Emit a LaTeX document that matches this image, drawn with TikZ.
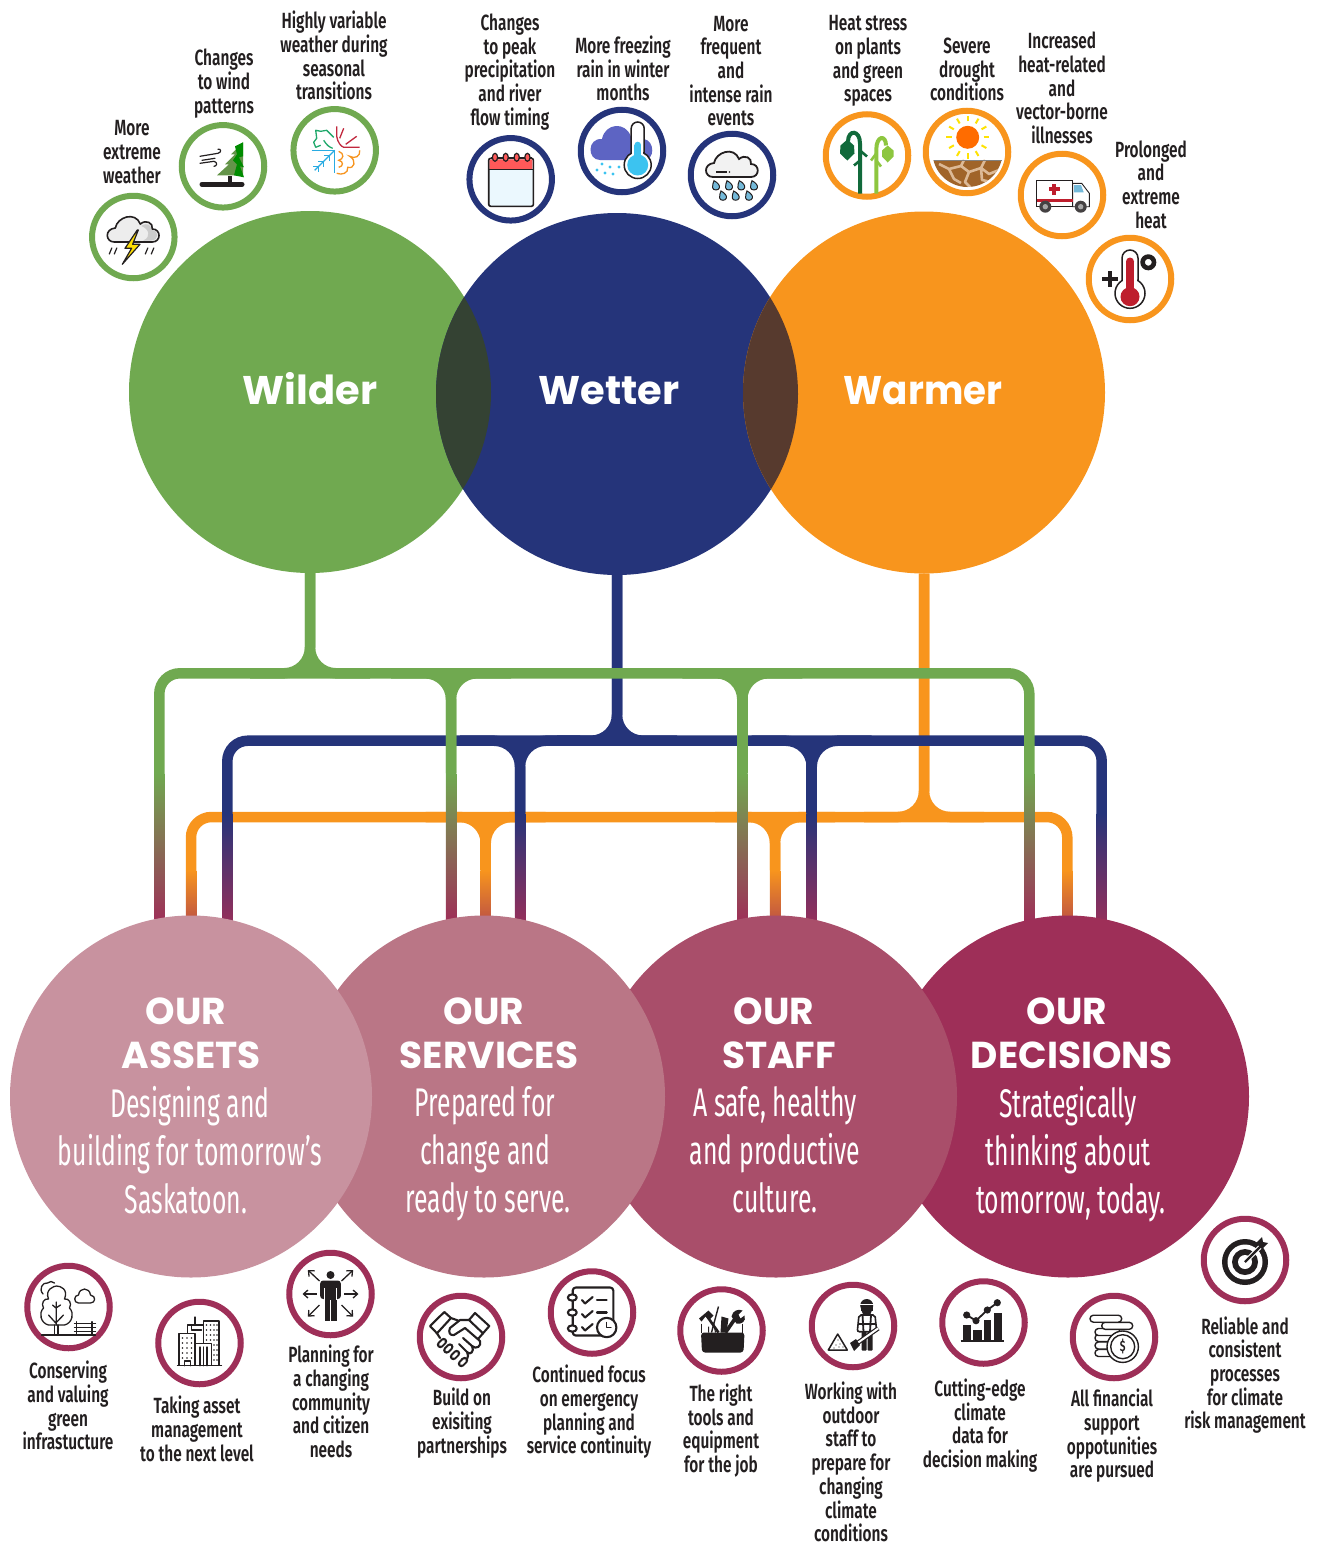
\documentclass[tikz,border=0pt]{standalone}
\usepackage{fontspec}
\usetikzlibrary{calc,arrows.meta}
\newfontfamily\labf[FakeStretch=0.70]{Fira Sans SemiBold}
\newfontfamily\bodyf[FakeStretch=0.62]{Fira Sans}
\newfontfamily\headf{Poppins Bold}
\definecolor{ink}{HTML}{231F20}
\definecolor{cgreen}{HTML}{70A950}
\definecolor{cblue}{HTML}{25347A}
\definecolor{corange}{HTML}{F8951D}
\definecolor{wine}{HTML}{9E2F58}
\definecolor{cassets}{HTML}{C8929F}
\definecolor{cservices}{HTML}{BA7686}
\definecolor{cstaff}{HTML}{A94E6A}
\definecolor{capgb}{HTML}{344233}
\definecolor{capbo}{HTML}{573A2E}
\definecolor{cdrop}{HTML}{74B9D9}
\definecolor{iconred}{HTML}{BE1E2D}
\definecolor{skyb}{HTML}{3CC3F0}
\pgfdeclarelayer{conn}
\pgfsetlayers{conn,main}
\newcommand{\tdrop}[3]{%
  \draw[#1] (#3) -- (#3|-#2);
  \draw[#1,rounded corners=26pt] (#3) -- (#3|-#2) -- ++(-60,0);
  \draw[#1,rounded corners=26pt] (#3) -- (#3|-#2) -- ++(60,0);}
\newcommand{\fadedrop}[4]{%
  \shade[top color=#1,bottom color=wine] ($(#2)+(-5.25,0)$) rectangle ($(#2|-#3)+(5.25,#4)$);}
\newcommand{\rdrop}[2]{\begin{scope}[shift={(#1,#2)}]
  \draw[ink,line width=1pt,fill=cdrop] (-2,-5) .. controls (2,-3) and (4,0) .. (3.4,2) .. controls (2.8,5) and (-3,5) .. (-3.4,2) .. controls (-3.6,0) and (-3,-3) .. (-2,-5) -- cycle;
  \end{scope}}
% thermometer: centre x, top y, bulb y, tube half width, bulb radius
\newcommand{\thermo}[5]{%
  \filldraw[draw=ink,line width=1.5pt,fill=white,rounded corners=#4 pt] (#1-#4,#2) rectangle (#1+#4,#3);
  \filldraw[draw=ink,line width=1.5pt,fill=white] (#1,#3) circle (#5 pt);
  \fill[white] (#1-#4+.75,#3-#5-3) rectangle (#1+#4-.75,#3);}
\def\cloudp{(-19,5) .. controls (-28,5) and (-29,-8) .. (-18,-9) .. controls (-16,-20) and (2,-26) .. (7,-13) .. controls (13,-18) and (20,-14) .. (19,-8) .. controls (28,-8) and (28,5) .. (19,5) -- cycle}
\tikzset{
  ring/.style={circle,draw=#1,line width=6pt,minimum size=82.5pt,inner sep=0pt,fill=white},
  bigc/.style={circle,fill=#1,minimum size=362pt,inner sep=0pt},
  lab/.style={font=\labf\fontsize{22}{23.7}\selectfont,align=center,inner sep=0pt,text=ink},
  head/.style={font=\headf\fontsize{40}{44}\selectfont,inner sep=0pt,text=white},
  ctitle/.style={font=\headf\fontsize{37.5}{44}\selectfont,align=center,inner sep=0pt,text=white},
  cbody/.style={font=\bodyf\fontsize{40}{48}\selectfont,align=center,inner sep=0pt,text=white},
  gline/.style={draw=cgreen,line width=10.5pt},
  bline/.style={draw=cblue,line width=10.5pt},
  oline/.style={draw=corange,line width=10.5pt},
  ic/.style={draw=ink,line width=1.6pt,line cap=round,line join=round},
}
\begin{document}
\begin{tikzpicture}[x=1pt,y=-1pt]
\useasboundingbox (0,0) rectangle (1323,1545);
% ---- big circles
\node[bigc=cgreen] (wilder) at (310,392) {};
\node[bigc=cblue] (wetter) at (617,394) {};
\node[bigc=corange] (warmer) at (924,392.5) {};
\begin{scope}\clip (310,392) circle (181pt);\fill[capgb] (617,394) circle (181pt);\end{scope}
\begin{scope}\clip (617,394) circle (181pt);\fill[capbo] (924,392.5) circle (181pt);\end{scope}
\node[head] (wildert) at (310,388.5) {Wilder};
\node[head] (wettert) at (609,391) {Wetter};
\node[head] (warmert) at (923,390.5) {\scalebox{.93}[1]{Warmer}};
\node[bigc=wine] (decisions) at (1068,1096.5) {};
\node[bigc=cstaff] (staff) at (776,1096.5) {};
\node[bigc=cservices] (services) at (484,1096.5) {};
\node[bigc=cassets] (assets) at (191,1096.5) {};
\node[ctitle] (t1) at (191,1033) {\hspace*{-10pt}OUR\\ASSETS};
\node[ctitle] (t2) at (489,1033) {\hspace*{-10pt}OUR\\SERVICES};
\node[ctitle] (t3) at (779,1033) {\hspace*{-10pt}OUR\\STAFF};
\node[ctitle] (t4) at (1072,1033) {\hspace*{-10pt}OUR\\DECISIONS};
\node[cbody] (b1) at (190,1150) {Designing and\\building for tomorrow’s\\\hspace*{-8pt}Saskatoon.};
\node[cbody] (b2) at (485,1154) {Prepared for\\change and\\\hspace*{6pt}ready to serve.};
\node[cbody] (b3) at (775,1150) {A safe, healthy\\and productive\\culture.};
\node[cbody] (b4) at (1068,1154) {Strategically\\thinking about\\\hspace*{6pt}tomorrow, today.};
% ---- connectors
\coordinate (gbus) at (0,673.3);\coordinate (bbus) at (0,740.7);\coordinate (obus) at (0,817);
\coordinate (g1) at (159.3,773);\coordinate (g2) at (451,773);\coordinate (g3) at (742.3,773);\coordinate (g4) at (1029.3,773);
\coordinate (b1c) at (227.3,813);\coordinate (b2c) at (520,813);\coordinate (b3c) at (811.7,813);\coordinate (b4c) at (1101.7,813);
\coordinate (o1) at (191,870);\coordinate (o2) at (485.7,870);\coordinate (o3) at (775,870);\coordinate (o4) at (1067.3,870);
\begin{pgfonlayer}{conn}
% orange
\draw[oline,rounded corners=20.5pt] (o1) -- (o1|-obus) -- (o4|-obus) -- (o4);
\tdrop{oline}{obus}{warmer.south}
\tdrop{oline}{obus}{o2}\tdrop{oline}{obus}{o3}
\fadedrop{corange}{o1}{assets.north}{34}\fadedrop{corange}{o2}{services.north}{34}\fadedrop{corange}{o3}{staff.north}{34}\fadedrop{corange}{o4}{decisions.north}{34}
% blue
\draw[bline,rounded corners=20.5pt] (b1c) -- (b1c|-bbus) -- (b4c|-bbus) -- (b4c);
\tdrop{bline}{bbus}{wetter.south}
\tdrop{bline}{bbus}{b2c}\tdrop{bline}{bbus}{b3c}
\fadedrop{cblue}{b1c}{assets.north}{16}\fadedrop{cblue}{b2c}{services.north}{16}\fadedrop{cblue}{b3c}{staff.north}{16}\fadedrop{cblue}{b4c}{decisions.north}{16}
% green
\draw[gline,rounded corners=20.5pt] (g1) -- (g1|-gbus) -- (g4|-gbus) -- (g4);
\tdrop{gline}{gbus}{wilder.south}
\tdrop{gline}{gbus}{g2}\tdrop{gline}{gbus}{g3}
\fadedrop{cgreen}{g1}{assets.north}{6}\fadedrop{cgreen}{g2}{services.north}{6}\fadedrop{cgreen}{g3}{staff.north}{6}\fadedrop{cgreen}{g4}{decisions.north}{6}
\end{pgfonlayer}
% ---- rings
\foreach \n/\x/\y in {i1/133.3/237,i2/223/166.3,i3/334.7/150.3}{\node[ring=cgreen] (\n) at (\x,\y) {};}
\foreach \n/\x/\y in {i4/510.7/179.3,i5/622/151,i6/732/175}{\node[ring=cblue] (\n) at (\x,\y) {};}
\foreach \n/\x/\y in {i7/867/155.5,i8/967/152,i9/1062/195,i10/1130/279}{\node[ring=corange] (\n) at (\x,\y) {};}
\foreach \n/\x/\y in {j1/68.5/1307,j2/199.5/1343,j3/330.5/1294,j4/461/1337,j5/592/1312.5,j6/721.5/1330.5,j7/853/1326,j8/983.5/1322.5,j9/1114/1337,j10/1245/1260}{\node[ring=wine] (\n) at (\x,\y) {};}
% ---- labels
\node[lab] (l1) at (132,152) {More\\extreme\\weather};
\node[lab] (l2) at (224,83.5) {Changes\\to wind\\patterns};
\node[lab] (l3) at (334,55.5) {Highly variable\\weather during\\seasonal\\transitions};
\node[lab] (l4) at (510,72) {Changes\\to peak\\precipitation\\and river\\flow timing};
\node[lab] (l5) at (623,68.5) {More freezing\\rain in winter\\months};
\node[lab] (l6) at (731,71) {More\\frequent\\and\\intense rain\\events};
\node[lab] (l7) at (868,61) {Heat stress\\on plants\\and green\\spaces};
\node[lab] (l8) at (967,69.5) {Severe\\drought\\conditions};
\node[lab] (l9) at (1062,88) {Increased\\heat-related\\and\\vector-borne\\illnesses};
\node[lab] (l10) at (1151,184.5) {Prolonged\\and\\extreme\\heat};
\node[lab] (m1) at (68,1405.5) {Conserving\\and valuing\\green\\infrastucture};
\node[lab] (m2) at (197,1429) {Taking asset\\management\\to the next level};
\node[lab] (m3) at (331,1401.5) {Planning for\\a changing\\community\\and citizen\\needs};
\node[lab] (m4) at (462,1423) {Build on\\exisiting\\partnerships};
\node[lab] (m5) at (589,1412) {Continued focus\\on emergency\\planning and\\service continuity};
\node[lab] (m6) at (721,1430.5) {The right\\tools and\\equipment\\for the job};
\node[lab] (m7) at (851,1462) {Working with\\outdoor\\staff to\\prepare for\\changing\\climate\\conditions};
\node[lab] (m8) at (980,1425.5) {Cutting-edge\\climate\\data for\\decision making};
\node[lab] (m9) at (1112,1436) {All financial\\support\\oppotunities\\are pursued};
\node[lab] (m10) at (1245,1375) {Reliable and\\consistent\\processes\\for climate\\risk management};
% ---- icons: storm
\begin{scope}[shift={(i1)}]
\filldraw[draw=ink,line width=1.6pt,fill=gray!14] \cloudp;
\fill[gray!40] (8,-11) .. controls (14,-15) and (18,-12) .. (18,-7) .. controls (26,-7) and (26,3) .. (18,3.5) -- (10,3.5) .. controls (18,0) and (16,-8) .. (8,-11) -- cycle;
\filldraw[draw=ink,line width=1.2pt,fill=yellow!80!orange,line join=round] (4,-7) -- (-8.3,11.3) -- (-1.7,11.3) -- (-11,27.3) -- (6.7,7.3) -- (-0.7,7.3) -- (5,-7) -- cycle;
\foreach \a/\b in {-24/17,-19/17,12/17,18/17}{\draw[ic,line width=1.2pt] (\a,\b) -- ++(2.5,-6);}
\end{scope}
% wind and tree
\begin{scope}[shift={(i2)}]
\draw[ink,line width=5pt,line cap=round] (-21,18) -- (19,18);
\fill[ink] (5,10) rectangle (9,18);
\fill[cgreen!85!ink] (20,-24) -- (8,-12) -- (12,-12) -- (2,-2) -- (6,-2) -- (-6,9) -- (20,9) -- cycle;
\fill[green!55!black] (12,-20) -- (20,-24) -- (20,-10) -- (16,-9) -- (21,1) -- (17,0) -- (21,11) -- (11,9) -- (14,-2) -- (10,-6) -- (14,-12) -- cycle;
\draw[ic,line width=1.2pt] (-23,-10) -- (-5,-13) .. controls (-1,-14) and (-2,-18) .. (-5,-17);
\draw[ic,line width=1.2pt] (-21,-6) -- (-8,-8);
\draw[ic,line width=1.2pt] (-23,-3) -- (-9,-5) .. controls (-5,-4) and (-6,0) .. (-9,0);
\end{scope}
% seasons
\begin{scope}[shift={(i3)}]
\definecolor{sg}{HTML}{1FA86B}\definecolor{sr}{HTML}{C1283E}\definecolor{sb}{HTML}{29ABE2}\definecolor{so}{HTML}{F7941E}
\draw[sg,line width=1.3pt,line join=round] (-1,-13) -- (-6,-18) -- (-8,-20) -- (-14,-19) -- (-19,-20) -- (-18,-12) -- (-21,-8) -- (-19,-3) -- (-14,-5);
\draw[sg,line width=1.3pt] (-11,-10) .. controls (-8,-5) and (-5,-3) .. (-2,-2);
\draw[sr,line width=1.3pt] (2,-24) -- (2,-14) .. controls (3,-8) and (6,-4) .. (9,-3) -- (25,-3);
\draw[sr,line width=1.3pt] (9,-22) -- (5,-12);\draw[sr,line width=1.3pt] (22,-14) -- (11,-6);
\draw[sb,line width=1.3pt] (-23,0) -- (0,0) -- (0,23);\draw[sb,line width=1.3pt] (0,0) -- (-20,20);
\foreach \t in {5,11,16}{\draw[sb,line width=1.2pt] (-\t,\t) -- (-\t-6,\t);\draw[sb,line width=1.2pt] (-\t,\t) -- (-\t,\t+6);}
\draw[so,line width=1.3pt] (25,0) .. controls (26,6) and (20,9) .. (15,6) .. controls (22,10) and (20,19) .. (13,17) .. controls (14,23) and (7,25) .. (2,23);
\draw[so,line width=1.3pt] (4,1) .. controls (10,3) and (9,9) .. (4,10) .. controls (9,11) and (9,16) .. (4,17);
\end{scope}
% calendar
\begin{scope}[shift={(i4)}]
\filldraw[draw=ink,line width=1.6pt,fill=cyan!8,rounded corners=2pt] (-22,-21) rectangle (22.7,27);
\fill[red!65!white,rounded corners=1pt] (-21,-20) rectangle (21.7,-10);
\draw[ink,line width=1.6pt] (-22,-10) -- (22.7,-10);
\draw[ink,line width=1.4pt] (-20,-22) -- (21,-22);
\foreach \x in {-15.7,-5,6,16.7}{\filldraw[draw=ink,line width=1.2pt,fill=red!65!white] (\x,-22) ellipse (2.6pt and 4pt);}
\end{scope}
% rain + thermometer
\begin{scope}[shift={(i5)}]
\fill[blue!35!cblue!70!white] (-22,9) .. controls (-35,9) and (-35,-13) .. (-20,-12) .. controls (-17,-28) and (4,-30) .. (9,-14) -- (22,-12) .. controls (33,-10) and (33,9) .. (22,9) -- cycle;
\foreach \x/\y in {-25/19,-17/22,-9/23,-20/13,-12/16,-3/16}{\fill[skyb] (\x,\y) circle (1.6pt);}
\thermo{15.7}{-29}{14}{6.5}{13.5}
\fill[skyb] (12.4,14) rectangle (19,-6);\fill[skyb] (15.7,-6) circle (3.3pt);\fill[skyb] (15.7,14) circle (10.5pt);
\end{scope}
% frequent rain
\begin{scope}[shift={(i6)}]
\begin{scope}[shift={(0,-3)}]\filldraw[draw=ink,line width=1.8pt,fill=gray!10] \cloudp;\end{scope}
\draw[ink,line width=1.2pt] (-16,-3) -- (-5,-3);\fill[ink] (-2.5,-3) circle (.8pt);
\rdrop{-16}{10.7}\rdrop{-3}{10.7}\rdrop{9.3}{10.7}\rdrop{22}{10.7}\rdrop{-9}{21}\rdrop{3.7}{21}\rdrop{17}{21}
\end{scope}
% plants
\begin{scope}[shift={(i7)}]
\definecolor{pd}{HTML}{116A3B}\definecolor{pl}{HTML}{8DC63F}
\draw[pd,line width=4pt] (-7,38) -- (-7,-12) .. controls (-7,-26) and (-19,-26) .. (-19,-14);
\fill[pd] (-19.7,-16) -- (-13,-10) -- (-12.5,-2) -- (-19.7,5) -- (-27,-2) -- (-26.5,-10) -- cycle;
\draw[pd,line width=2.6pt] (-7,-5) -- (0,1);\draw[pd,line width=2.6pt] (-7,5) -- (-13,10);
\draw[pl,line width=4pt] (9.3,38) -- (9.3,-6) .. controls (9.3,-20) and (19,-21) .. (19,-10);
\fill[pl] (20.7,-10) -- (26.5,-5) -- (26.5,1) -- (20.7,7) -- (15,1) -- (15,-5) -- cycle;
\draw[pl,line width=2.6pt] (9.3,-2) -- (4,5);\draw[pl,line width=2.6pt] (9.3,5) -- (14,11);
\end{scope}
% drought
\begin{scope}[shift={(i8)}]
\begin{scope}\clip (0.5,0) circle (35pt);
\fill[brown!75!black!85!orange] (-40,8) rectangle (40,40);
\draw[brown!55!white,line width=2.6pt,line join=round] (-28,12) -- (-18,17) -- (-13,27) -- (-6,31) (-18,17) -- (-6,14) -- (2,20) -- (-2,30) -- (6,38) (2,20) -- (14,16) -- (22,22) -- (32,18) (14,16) -- (15,28) -- (24,30) (-6,14) -- (-3,8) (14,16) -- (18,8);
\end{scope}
\draw[gray,line width=.8pt] (-33.5,8) -- (35,8);
\fill[orange!85!red] (0.7,-14.7) circle (11.5pt);
\foreach \a in {0,30,...,330}{\draw[yellow!85!orange,line width=2pt] ($(0.7,-14.7)+(\a:16)$) -- ($(0.7,-14.7)+(\a:21.5)$);}
\end{scope}
% ambulance
\begin{scope}[shift={(i9)}]
\filldraw[draw=ink,line width=.9pt,fill=white] (10.7,-11.7) -- (19.7,-11.7) -- (27.3,-1.7) -- (27.3,11.7) -- (10.7,11.7) -- cycle;
\filldraw[draw=ink,line width=.9pt,fill=white] (-25.3,-15) rectangle (10.7,11.7);
\fill[iconred] (-25.3,4) rectangle (10.7,7);
\fill[cdrop] (12,-10) -- (19,-10) -- (21.7,-2.7) -- (12,-2.7) -- cycle;
\fill[iconred] (-9.7,-11.2) rectangle (-5.7,-0.2);\fill[iconred] (-13.2,-7.7) rectangle (-2.2,-3.7);
\foreach \x in {-16.7,18.7}{\fill[ink!85] (\x,11.7) circle (6pt);\fill[gray!70] (\x,11.7) circle (2.7pt);}
\end{scope}
% heat
\begin{scope}[shift={(i10)}]
\thermo{0}{-29}{14.3}{8}{15}
\fill[iconred] (-4,-18) rectangle (4,18);\fill[iconred] (0,-17.5) circle (4pt);\fill[iconred] (0,17.7) circle (9.5pt);
\fill[ink] (-28,-2) rectangle (-12,2);\fill[ink] (-22,-8) rectangle (-18,8);
\draw[ink,line width=4.6pt] (18.3,-16.7) circle (5.7pt);
\end{scope}
% park
\begin{scope}[shift={(j1)},ic/.append style={line width=1.3pt}]
\draw[ic] (-27,28) -- (27,28);
\draw[ic] (-25.5,-13) .. controls (-30,-18) and (-26,-25) .. (-21,-24) .. controls (-19,-26) and (-16,-26) .. (-14,-24);
\draw[ic,fill=white] (-20,18) .. controls (-28,16) and (-30,6) .. (-25,1) .. controls (-28,-4) and (-24,-9) .. (-20,-8) .. controls (-24,-18) and (-14,-21) .. (-12,-21) .. controls (-8,-21) and (0,-18) .. (-4,-8) .. controls (0,-9) and (4,-4) .. (1,1) .. controls (6,6) and (4,16) .. (-4,18) -- cycle;
\draw[ic] (-14,28) -- (-14,18) (-10.5,28) -- (-10.5,18);
\draw[ic] (-12.3,18) -- (-12.3,-5) (-20,8) -- (-12.7,16) -- (-5,8) (-16,-2) -- (-12.5,1) -- (-8,-2);
\draw[ic,fill=white] (10,-4) .. controls (5,-4) and (5,-12) .. (10,-12) .. controls (11,-20) and (21,-20) .. (22,-12) .. controls (28,-11) and (27,-4) .. (22,-4) -- cycle;
\draw[ic] (6,16.3) -- (27,16.3) (6,20.7) -- (27,20.7) (6,24.5) -- (27,24.5) (8.3,14.7) -- (8.3,28) (23.5,14.7) -- (23.5,28);
\end{scope}
% buildings
\begin{scope}[shift={(j2)},ic/.append style={line width=1.2pt}]
\draw[ic,fill=white] (3.8,-22) rectangle (19.5,22.7);
\draw[ic,fill=white] (-12,-18) rectangle (4,22.7);\draw[ic] (-4.5,-18) -- (-4.5,-26);\draw[ic] (-8,-18) -- (-8,-13) -- (2,-13);
\draw[ic,fill=white] (-20.5,-9.7) rectangle (-4.5,22.7);
\draw[ic,fill=white] (-4.5,.3) rectangle (12,22.7);
\foreach \x in {.5,4,7.5}{\draw[ic] (\x,4) -- (\x,22.7);}
\foreach \y in {-5,0,5,10,15}{\foreach \x in {-17,-12.5,-8}{\fill[ink] (\x,\y) circle (.95pt);}}
\foreach \y in {-18,-13,-8,-3,2,7,12,17}{\foreach \x in {14.5,17.5}{\fill[ink] (\x,\y) circle (.9pt);}}
\foreach \x in {7,11}{\foreach \y in {-18,-13,-8,-3}{\fill[ink] (\x,\y) circle (.9pt);}}
\draw[ic] (-15,22.7) -- (-15,18) -- (-9,18) -- (-9,22.7);
\draw[ic] (-22,22.7) -- (22,22.7);
\end{scope}
% person
\begin{scope}[shift={(j3)}]
\fill[ink] (0,-19) circle (4pt);
\fill[ink,rounded corners=3pt] (-10.3,-13.5) rectangle (10.3,5);
\fill[ink] (-6,0) rectangle (6,27);
\draw[white,line width=1pt] (0,6) -- (0,27) (-6.4,-6) -- (-6.4,6) (6.4,-6) -- (6.4,6);
\foreach \a/\b/\c/\d in {-11/-13/-22.7/-24,11/-13/22.7/-24,-13.7/0/-28/0,13.7/0/28/0,-11/11/-22.7/22.7,11/11/22.7/22.7}{\draw[ink,line width=1.3pt,-{Straight Barb[length=4.5pt,width=8pt]}] (\a,\b) -- (\c,\d);}
\end{scope}
% handshake
\begin{scope}[shift={(j4)},ic/.append style={line width=2.1pt}]
\draw[ic,fill=white] (-31,-11) -- (-16.7,-25) -- (-10,-19) -- (-24,-3.7) -- cycle;
\draw[ic,fill=white] (28.3,-11) -- (14,-24) -- (8,-17) -- (22,-3.7) -- cycle;
\draw[ic] (-10,-19) -- (-3,-16.5);
\draw[ic] (8,-17) -- (-1,-17) -- (-11,-9) .. controls (-13,-5) and (-11,-1) .. (-7,-2) -- (4,-9) -- (19,4);
\draw[ic] (22,-3.7) -- (17,2);
\draw[ic] (19,4) .. controls (21,9) and (15,13) .. (11,9) -- (2,1);
\draw[ic] (11,9) .. controls (14,14) and (9,19) .. (6,15) -- (-2,7);
\draw[ic] (6,15) .. controls (9,20) and (5,26) .. (1,22);
\draw[ic] (-24,-3.7) -- (-21,1);
\foreach \x/\y in {-19/6,-12.7/11.5,-6/18,2/25}{\draw[ink,line width=7pt,line cap=round] (\x-1.7,\y+1.7) -- (\x+1.7,\y-1.7);\draw[white,line width=2.8pt,line cap=round] (\x-1.7,\y+1.7) -- (\x+1.7,\y-1.7);}
\end{scope}
% checklist
\begin{scope}[shift={(j5)},ic/.append style={line width=2.1pt}]
\draw[ic,rounded corners=3pt] (-19.3,-25) rectangle (21.3,23);
\foreach \y/\yy in {-15/-12.5,0/1.5,16/14.5}{\draw[ic,fill=white] (-19.7,\y) ellipse (4.5pt and 3.2pt);
\draw[ic] (-10,\yy) -- (-7,\yy+3.5) -- (.7,\yy-3);}
\draw[ic] (5,-12.5) -- (14.7,-12.5) (5,0) -- (14.7,0);
\draw[ic,fill=white] (14.7,15) circle (9.7pt);
\draw[ic,line width=1.4pt] (14.7,10) -- (14.7,15) -- (19,15);
\end{scope}
% toolbox
\begin{scope}[shift={(j6)}]
\draw[ink,line width=2.6pt] (-15,-15) -- (-3,2);
\fill[ink] (-22.5,-12) -- (-13,-20) -- (-8,-15) -- (-12,-11) -- (-16,-14) -- (-20,-9) -- cycle;
\draw[ink,line width=1.4pt] (-3,-24) -- (-10,2);
\draw[ink,line width=1pt] (-13,-4) -- (-13,2) (-8,-8) -- (-6,2);
\fill[ink] (0,-14) -- (7,-12) -- (5,2) -- (-1,2) -- cycle;
\draw[ink,line width=3.6pt] (4,2) -- (15,-14);
\fill[ink] (10,-14) .. controls (11,-20) and (17,-22) .. (21,-20) -- (17,-16) -- (19,-12) -- (23,-15) .. controls (25,-9) and (20,-6) .. (15,-7) -- cycle;
\fill[ink,rounded corners=3pt] (-20.5,2) -- (23,2) -- (22,22) -- (-19.5,22) -- cycle;
\draw[ink,line width=1.2pt] (-20,-7) -- (-20,2) (21,-7) -- (21,2);
\end{scope}
% worker
\begin{scope}[shift={(j7)}]
\fill[ink] (13.7,-20.5) circle (6.5pt);\fill[white] (6.7,-22) rectangle (20.7,-20.7);\fill[ink] (8,-20) rectangle (19.5,-15);\fill[ink] (13.7,-15) circle (5pt);
\filldraw[draw=ink,line width=1.6pt,fill=white,rounded corners=2pt] (6,-11) -- (22,-11) -- (23.7,5.7) -- (4.3,5.7) -- cycle;
\draw[ink,line width=1.8pt] (9.5,-11) -- (10.5,5.7) (18,-11) -- (17,5.7) (5,-2) -- (23,-2);
\fill[ink,rounded corners=1pt] (8.7,5.7) -- (13.7,5.7) -- (13.7,24.7) -- (8.7,24.7) -- cycle;\fill[ink,rounded corners=1pt] (14.7,5.7) -- (19.7,5.7) -- (19.7,24.7) -- (14.7,24.7) -- cycle;
\draw[ink,line width=4.4pt] (25.3,2.3) -- (3,18);\draw[white,line width=2pt] (25.3,2.3) -- (3,18);
\fill[ink] (-3,17) -- (3,13) -- (7,19) -- (1,25) -- cycle;
\draw[ic,line width=1.5pt,fill=white] (-24.7,24) -- (-15.3,8) -- (-5.7,24) -- cycle;
\foreach \x/\y in {-15/14,-13/18,-17/19,-10/21,-19/22,-14/21}{\fill[ink] (\x,\y) circle (.6pt);}
\end{scope}
% chart
\begin{scope}[shift={(j8)}]
\fill[ink] (-20.8,2.5) rectangle (-12.5,18.8);\fill[ink] (-10.2,7.5) rectangle (-1.8,18.8);\fill[ink] (.8,-2.5) rectangle (7.5,18.8);\fill[ink] (10.8,-10) rectangle (18.2,18.8);
\draw[ink,line width=2pt] (-22.8,18.8) -- (20.5,18.8);
\draw[ink,line width=1.8pt] (-16.8,-7.5) -- (-7.5,-1.8) -- (3.8,-12.5) -- (13.8,-19.8);
\foreach \x/\y in {-16.8/-7.5,-7.5/-1.8,3.8/-12.5,13.8/-19.8}{\fill[ink] (\x,\y) circle (3.6pt);}
\end{scope}
% coins
\begin{scope}[shift={(j9)},ic/.append style={line width=1.4pt}]
\foreach \a/\b/\y in {-19/6/16,-19/6/8.5,-19/6/1,-19/6/-5,-12.3/18.7/-11.2,-24/7.7/-18.3}{\draw[ic,fill=white,rounded corners=3.4pt] (\a,\y-3.5) rectangle (\b,\y+3.5);}
\draw[ic,fill=white] (8.7,9.7) circle (15.7pt);\draw[ic] (8.7,9.7) circle (12pt);
\node[font=\labf\fontsize{15}{15}\selectfont,inner sep=0pt,text=ink] (dollar) at (8.7,9.7) {\$};
\end{scope}
% target
\begin{scope}[shift={(j10)}]
\fill[ink] (0,2) circle (23pt);\fill[white] (0,2) circle (17.5pt);\fill[ink] (0,2) circle (13pt);\fill[white] (0,2) circle (7pt);
\draw[white,line width=4.5pt] (0,2) -- (18,-16);\draw[ink,line width=2.2pt] (0,2) -- (18,-16);
\fill[ink] (11,-17) -- (17,-23) -- (18,-18) -- (23,-17) -- (17,-11) -- cycle;
\end{scope}
\end{tikzpicture}
\end{document}
